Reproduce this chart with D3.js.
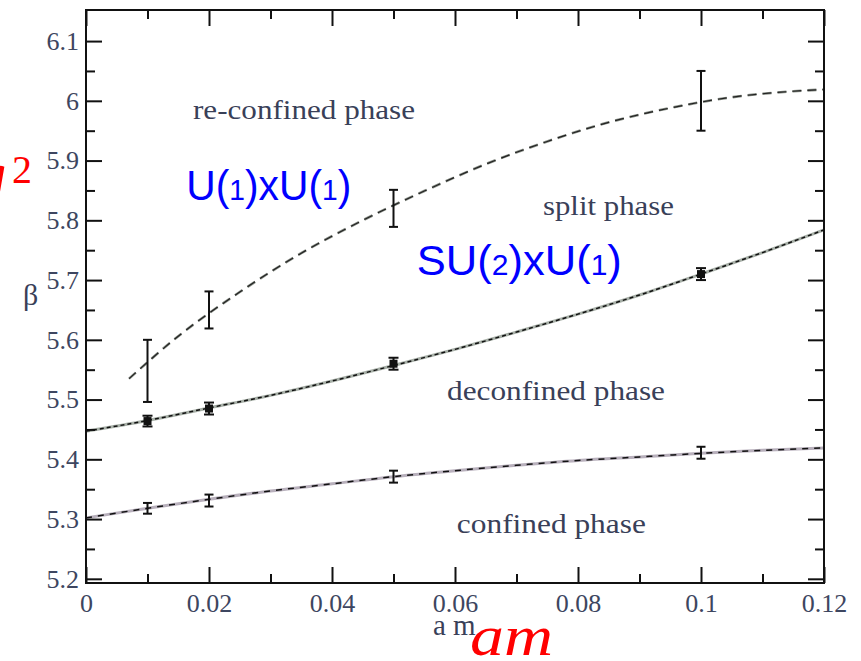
<!DOCTYPE html>
<html lang="en">
<head>
<meta charset="UTF-8">
<script src="https://cdn.jsdelivr.net/npm/d3@7"></script>
<title>beta vs am phase diagram</title>
<style>
	body { margin: 0; background: white; }
	svg { display: block; }
	.serif { font-family: "Liberation Serif", "Times New Roman", serif; fill: #394058; }
	text.ticklab { font-family: "Liberation Serif", "Times New Roman", serif; font-size: 26px; fill: #3d4660; }
</style>
</head>
<body>
<div id="chart"></div>
<script>
	// ---------------- data ----------------
	const amPoints = [0.01, 0.02, 0.05, 0.1];

	// measured points with error bars
	const confinedBeta = [5.318, 5.331, 5.371, 5.411];
	const confinedErr = [0.009, 0.010, 0.010, 0.010];
	const deconfinedBeta = [5.464, 5.485, 5.560, 5.710];
	const deconfinedErr = [0.009, 0.010, 0.010, 0.010];
	const reconfinedBeta = [5.548, 5.650, 5.820, 6.000];
	const reconfinedErr = [0.052, 0.031, 0.031, 0.050];

	// fitted curves
	const fitAm = [0, 0.01, 0.02, 0.03, 0.04, 0.05, 0.06, 0.07, 0.08, 0.09, 0.1, 0.11, 0.12];
	const confinedFit = [5.302, 5.318, 5.333, 5.347, 5.359, 5.371, 5.381, 5.390, 5.398, 5.404, 5.410, 5.415, 5.419];
	const deconfinedFit = [5.447, 5.465, 5.486, 5.507, 5.531, 5.557, 5.584, 5.613, 5.643, 5.675, 5.710, 5.746, 5.784];
	const upperAm = [0.007, 0.015, 0.025, 0.035, 0.045, 0.055, 0.065, 0.075, 0.085, 0.095, 0.105, 0.115, 0.12];
	const reconfinedFit = [5.535, 5.606, 5.680, 5.745, 5.800, 5.849, 5.894, 5.932, 5.964, 5.988, 6.006, 6.016, 6.019];

	// ticks
	const xMajor = [0, 0.02, 0.04, 0.06, 0.08, 0.1, 0.12];
	const xMinor = [0.01, 0.03, 0.05, 0.07, 0.09, 0.11];
	const yMajor = [5.2, 5.3, 5.4, 5.5, 5.6, 5.7, 5.8, 5.9, 6.0, 6.1];
	const yMinor = [5.25, 5.35, 5.45, 5.55, 5.65, 5.75, 5.85, 5.95, 6.05];

	const phaseLabels = ["re-confined phase", "split phase", "deconfined phase", "confined phase"];

	// ---------------- setup ----------------
	const W = 861, H = 661;
	const svg = d3.select("#chart").append("svg")
		.attr("width", W)
		.attr("height", H);
	svg.append("rect").attr("width", W).attr("height", H).attr("fill", "white");

	const x = d3.scaleLinear().domain([0, 0.12]).range([86, 824]);
	const y = d3.scaleLinear().domain([5.193, 6.152]).range([583, 10]);
	const fmt = d => String(+d.toFixed(2));

	// ---------------- curves ----------------
	const line = d3.line()
		.x(d => x(d[0]))
		.y(d => y(d[1]))
		.curve(d3.curveMonotoneX);

	const lowerPts = fitAm.map((a, i) => [a, confinedFit[i]]);
	const midPts = fitAm.map((a, i) => [a, deconfinedFit[i]]);
	const upPts = upperAm.map((a, i) => [a, reconfinedFit[i]]);

	// solid-looking lines: grey band with black dashes on top
	[[lowerPts, "6,6", "#b8b0bc"], [midPts, "4,3", "#a8b0a8"]].forEach(([pts, dash, band]) => {
		svg.append("path").attr("d", line(pts))
			.attr("fill", "none").attr("stroke", band).attr("stroke-width", 3);
		svg.append("path").attr("d", line(pts))
			.attr("fill", "none").attr("stroke", "#111").attr("stroke-width", 1.5)
			.attr("stroke-dasharray", dash);
	});
	// dashed upper curve
	svg.append("path").attr("d", line(upPts))
		.attr("fill", "none").attr("stroke", "#8a9088").attr("stroke-width", 2.6)
		.attr("stroke-dasharray", "9,6");
	svg.append("path").attr("d", line(upPts))
		.attr("fill", "none").attr("stroke", "#222").attr("stroke-width", 1.2)
		.attr("stroke-dasharray", "9,6");

	// ---------------- error bars ----------------
	function errorBars(vals, errs, capW, filled) {
		const g = svg.append("g").attr("stroke", "#111").attr("stroke-width", 2);
		amPoints.forEach((a, i) => {
			const cx = x(a), y0 = y(vals[i] - errs[i]), y1 = y(vals[i] + errs[i]);
			g.append("line").attr("x1", cx).attr("x2", cx).attr("y1", y0).attr("y2", y1);
			g.append("line").attr("x1", cx - capW / 2).attr("x2", cx + capW / 2).attr("y1", y0).attr("y2", y0);
			g.append("line").attr("x1", cx - capW / 2).attr("x2", cx + capW / 2).attr("y1", y1).attr("y2", y1);
			if (filled) {
				g.append("rect").attr("x", cx - 4).attr("y", y(vals[i]) - 4)
					.attr("width", 8).attr("height", 8).attr("fill", "#111").attr("stroke", "none");
			}
		});
	}
	errorBars(confinedBeta, confinedErr, 9, false);
	errorBars(deconfinedBeta, deconfinedErr, 10, true);
	errorBars(reconfinedBeta, reconfinedErr, 9, false);

	// ---------------- axes (ticks pointing inward) ----------------
	function addAxis(axisFn, tr, major, minor, showLabels, pad) {
		const gMaj = svg.append("g").attr("transform", tr)
			.call(axisFn.tickValues(major).tickSize(-16).tickPadding(pad)
				.tickFormat(showLabels ? fmt : ""));
		const gMin = svg.append("g").attr("transform", tr)
			.call(axisFn.tickValues(minor).tickSize(-9).tickFormat(""));
		[gMaj, gMin].forEach(g => {
			g.select(".domain").remove();
			g.selectAll(".tick line").attr("stroke", "#111").attr("stroke-width", 2);
			g.selectAll(".tick text").attr("class", "ticklab");
		});
	}
	addAxis(d3.axisLeft(y), "translate(86,0)", yMajor, yMinor, true, 7);
	addAxis(d3.axisRight(y), "translate(824,0)", yMajor, yMinor, false, 0);
	addAxis(d3.axisBottom(x), "translate(0,583)", xMajor, xMinor, true, 11);
	addAxis(d3.axisTop(x), "translate(0,10)", xMajor, xMinor, false, 0);

	svg.append("rect")
		.attr("x", 86).attr("y", 10).attr("width", 738).attr("height", 573)
		.attr("fill", "none").attr("stroke", "#111").attr("stroke-width", 2);

	// ---------------- axis titles ----------------
	svg.append("text").attr("class", "serif")
		.attr("x", 433).attr("y", 635).attr("font-size", 29)
		.text("a m");
	svg.append("text").attr("class", "serif")
		.attr("x", 23).attr("y", 305).attr("font-size", 30)
		.text("β");

	// red overlay labels
	svg.append("text")
		.attr("x", 470).attr("y", 655)
		.attr("font-family", "Liberation Serif, serif").attr("font-style", "italic")
		.attr("font-size", 56).attr("fill", "#ff0000")
		.attr("textLength", 83).attr("lengthAdjust", "spacingAndGlyphs")
		.text("am");
	svg.append("text")
		.attr("x", -22).attr("y", 192)
		.attr("font-family", "Liberation Serif, serif").attr("font-style", "italic")
		.attr("font-size", 56).attr("fill", "#ff0000")
		.text("g");
	svg.append("text")
		.attr("x", 12).attr("y", 183)
		.attr("font-family", "Liberation Serif, serif")
		.attr("font-size", 40).attr("fill", "#ff0000")
		.text("2");

	// ---------------- phase annotations ----------------
	const phaseAnchors = [[0.0174, 5.970, 222], [0.0743, 5.809, 131], [0.0587, 5.499, 218], [0.0603, 5.277, 189]];
	phaseLabels.forEach((t, i) => {
		const [a, b, w] = phaseAnchors[i];
		svg.append("text").attr("class", "serif")
			.attr("x", x(a)).attr("y", y(b)).attr("font-size", 28)
			.attr("textLength", w).attr("lengthAdjust", "spacingAndGlyphs")
			.text(t);
	});

	// blue symmetry labels, digits drawn smaller like old-style figures
	function symLabel(a, b, parts, w) {
		const t = svg.append("text")
			.attr("x", x(a)).attr("y", y(b))
			.attr("font-family", "Liberation Sans, Arial, sans-serif")
			.attr("font-size", 42).attr("fill", "#0000ff")
			.attr("textLength", w).attr("lengthAdjust", "spacingAndGlyphs");
		parts.forEach(p => {
			t.append("tspan")
				.attr("font-size", /\d/.test(p) ? 29 : 42)
				.text(p);
		});
	}
	symLabel(0.0163, 5.834, ["U(", "1", ")xU(", "1", ")"], 165);
	symLabel(0.0538, 5.708, ["SU(", "2", ")xU(", "1", ")"], 205);
</script>
</body>
</html>
